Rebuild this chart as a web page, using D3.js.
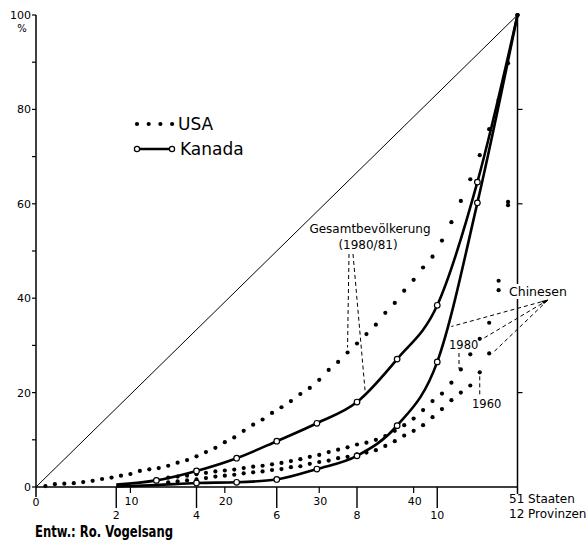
<!DOCTYPE html>
<html><head><meta charset="utf-8">
<script src="https://cdn.jsdelivr.net/npm/d3@7"></script>
<style>
body{margin:0;background:#fff;}
svg{display:block;font-family:"DejaVu Sans",sans-serif;}
</style></head>
<body><svg id="c" width="586" height="543"></svg>
<script>
// ---- data ----
// USA: cumulative share (%) of the 51 states, sorted ascending (index 0..51)
const usaTotal = [0, 0.2, 0.6, 0.7, 0.8, 1.05, 1.3, 1.7, 2.0, 2.4, 2.75, 3.4, 3.75, 4.0, 4.5, 5.15, 5.7, 6.5, 7.4, 8.3, 9.5, 10.5, 11.9, 13.2, 14.3, 15.7, 16.9, 18.2, 19.7, 21.0, 22.7, 24.8, 26.5, 28.5, 30.4, 32.4, 34.4, 36.9, 39.0, 41.6, 43.9, 46.5, 48.8, 52.2, 56.1, 60.6, 65.2, 70.3, 75.8, 82.0, 89.8, 100];
const usaChin1980 = [null,null,null,null,null,null,null,null,null,null,null,null,null,null,
  2.0, 2.2, 2.4, 2.7, 3.0, 3.3, 3.5, 3.7, 4.0, 4.3, 4.5, 4.8, 5.1, 5.5, 5.9, 6.4, 6.8, 7.4, 7.9, 8.4, 9.0, 9.4, 10.0, 10.8, 11.9, 13.1, 14.5, 16.3, 18.2, 19.8, 22.1, 24.9, 28.1, 31.4, 34.8, 43.7, 60.4, 100];
const usaChin1960 = [null,null,null,null,null,null,null,null,null,null,null,null,null,null,
  1.0, 1.2, 1.4, 1.6, 1.9, 2.2, 2.4, 2.6, 2.9, 3.1, 3.3, 3.6, 3.8, 4.2, 4.4, 4.9, 5.3, 5.6, 6.1, 6.4, 6.9, 7.3, 7.8, 8.7, 9.7, 10.9, 11.9, 13.1, 14.8, 16.5, 18.4, 20.0, 21.5, 24.3, 28.3, 41.7, 59.7, 100];
// Canada: cumulative share (%) of the 12 provinces/territories (index 0..12)
const canadaTotal = [0, 0.1, 0.5, 1.4, 3.4, 6.1, 9.7, 13.5, 18.0, 27.1, 38.5, 64.6, 100];
const canadaChin  = [0, 0.0, 0.1, 0.4, 0.85, 1.0, 1.6, 3.8, 6.6, 13.0, 26.5, 60.2, 100];

const yTicks = [0, 20, 40, 60, 80, 100];
const yMinor = [10, 30, 50, 70, 90];
const usaTicks = [10, 20, 30, 40];
const canTicks = [2, 4, 6, 8, 10];

// ---- scales ----
const svg = d3.select("#c");
const xU = d3.scaleLinear().domain([0, 51]).range([36, 517.5]);
const xC = d3.scaleLinear().domain([0, 12]).range([36, 517.5]);
const y = d3.scaleLinear().domain([0, 100]).range([487, 15]);

// ---- axes ----
const ax = svg.append("g").attr("stroke", "#000").attr("fill", "none");
ax.append("line").attr("x1", xU(0)).attr("x2", xU(0)).attr("y1", y(100)).attr("y2", y(0) + 10).attr("stroke-width", 1.5);
ax.append("line").attr("x1", xU(51)).attr("x2", xU(51)).attr("y1", y(100)).attr("y2", y(0) + 7).attr("stroke-width", 1.5);
ax.append("line").attr("x1", xU(0)).attr("x2", xU(51)).attr("y1", y(0)).attr("y2", y(0)).attr("stroke-width", 1.5);
// diagonal
ax.append("line").attr("x1", xU(0)).attr("y1", y(0)).attr("x2", xU(51)).attr("y2", y(100)).attr("stroke-width", 1);

// left ticks
yTicks.concat(yMinor).forEach(v => {
  ax.append("line").attr("x1", xU(0) - 4).attr("x2", xU(0)).attr("y1", y(v)).attr("y2", y(v)).attr("stroke-width", 1.2);
});
// right ticks
[20, 40, 60, 80].forEach(v => {
  ax.append("line").attr("x1", xU(51)).attr("x2", xU(51) + 5).attr("y1", y(v)).attr("y2", y(v)).attr("stroke-width", 1.2);
});
// USA ticks
usaTicks.forEach(v => {
  ax.append("line").attr("x1", xU(v)).attr("x2", xU(v)).attr("y1", y(0)).attr("y2", y(0) + 6).attr("stroke-width", 1.2);
});
// Canada ticks
canTicks.forEach(v => {
  ax.append("line").attr("x1", xC(v)).attr("x2", xC(v)).attr("y1", y(0)).attr("y2", y(0) + 21).attr("stroke-width", 1.4);
});

const lab = svg.append("g").attr("fill", "#000").attr("font-size", 11);
yTicks.forEach(v => {
  lab.append("text").attr("x", xU(0) - 5).attr("y", y(v) + 4).attr("text-anchor", "end").text(v);
});
lab.append("text").attr("x", 22).attr("y", 32).attr("text-anchor", "middle").attr("font-size", 10).text("%");
lab.append("text").attr("x", xU(0)).attr("y", 506).attr("text-anchor", "middle").text(0);
usaTicks.forEach(v => {
  lab.append("text").attr("x", xU(v) + 1).attr("y", 505).attr("text-anchor", "middle").text(v);
});
canTicks.forEach(v => {
  lab.append("text").attr("x", xC(v)).attr("y", 519).attr("text-anchor", "middle").text(v);
});
lab.append("text").attr("x", 509).attr("y", 503).attr("font-size", 12).text("51 Staaten");
lab.append("text").attr("x", 509).attr("y", 518).attr("font-size", 12).text("12 Provinzen");

// ---- Canada lines ----
const lineC = d3.line().x((d, i) => xC(d.i)).y(d => y(d.v)).curve(d3.curveMonotoneX);
function canSeries(arr, from) { return arr.map((v, i) => ({i, v})).filter(d => d.i >= from); }
const cT = canSeries(canadaTotal, 2), cC = canSeries(canadaChin, 2);
svg.append("path").attr("d", lineC(cT)).attr("fill", "none").attr("stroke", "#000").attr("stroke-width", 2.6);
svg.append("path").attr("d", lineC(cC)).attr("fill", "none").attr("stroke", "#000").attr("stroke-width", 2.6);

// ---- USA dots ----
function usaSeries(arr) { return arr.map((v, i) => ({i, v})).filter(d => d.v != null && d.i >= 1); }
const dotG = svg.append("g").attr("fill", "#000");
[usaTotal, usaChin1980, usaChin1960].forEach(arr => {
  dotG.selectAll(null).data(usaSeries(arr)).join("circle")
    .attr("cx", d => xU(d.i)).attr("cy", d => y(d.v)).attr("r", 2.1);
});

// ---- Canada circles ----
const circG = svg.append("g").attr("fill", "#fff").attr("stroke", "#000").attr("stroke-width", 1.2);
circG.selectAll(null).data(cT.filter(d => d.i >= 3 && d.i <= 11)).join("circle")
  .attr("cx", d => xC(d.i)).attr("cy", d => y(d.v)).attr("r", 2.8);
circG.selectAll(null).data(cC.filter(d => d.i >= 4 && d.i <= 11)).join("circle")
  .attr("cx", d => xC(d.i)).attr("cy", d => y(d.v)).attr("r", 2.8);

// ---- legend ----
const lg = svg.append("g");
[0, 1, 2, 3].forEach(k => lg.append("circle").attr("cx", 137 + k * 11.7).attr("cy", 124).attr("r", 2.1).attr("fill", "#000"));
lg.append("text").attr("x", 178).attr("y", 130).attr("font-size", 17).text("USA");
lg.append("line").attr("x1", 137).attr("x2", 172).attr("y1", 149).attr("y2", 149).attr("stroke", "#000").attr("stroke-width", 2.6);
[137, 172].forEach(x => lg.append("circle").attr("cx", x).attr("cy", 149).attr("r", 2.6).attr("fill", "#fff").attr("stroke", "#000").attr("stroke-width", 1.2));
lg.append("text").attr("x", 180).attr("y", 155).attr("font-size", 17).text("Kanada");

// ---- annotations ----
const an = svg.append("g");
const dash = g => g.attr("stroke", "#000").attr("stroke-width", 1).attr("stroke-dasharray", "4,3").attr("fill", "none");
an.append("text").attr("x", 370).attr("y", 233).attr("text-anchor", "middle").attr("font-size", 12).text("Gesamtbevölkerung");
an.append("text").attr("x", 368).attr("y", 249).attr("text-anchor", "middle").attr("font-size", 12).text("(1980/81)");
an.append("line").attr("x1", 349).attr("y1", 254).attr("x2", xU(33)).attr("y2", y(28.5) - 5).call(dash);
an.append("line").attr("x1", 353).attr("y1", 254).attr("x2", xC(8.2)).attr("y2", y(20.5)).call(dash);

// Chinesen label
an.append("rect").attr("x", 508).attr("y", 284).attr("width", 62).attr("height", 15).attr("fill", "#fff");
an.append("text").attr("x", 509).attr("y", 296).attr("font-size", 12.5).text("Chinesen");
const hub = [548, 300];
[[xC(10.35), y(34)], [xU(47) + 3, y(31.4)], [xU(48) + 3, y(28.3)]].forEach(p => {
  an.append("line").attr("x1", hub[0]).attr("y1", hub[1]).attr("x2", p[0]).attr("y2", p[1]).call(dash);
});
an.append("path").attr("d", "M548,300 l-7,1 l3,3 z").attr("fill", "#000");

// 1980 label
an.append("text").attr("x", 449).attr("y", 349).attr("font-size", 11.5).text("1980");
an.append("path").attr("d", `M459,353 V${y(24.9) - 1} H${xU(45) - 2}`).call(dash);
// 1960 label
an.append("text").attr("x", 472).attr("y", 408).attr("font-size", 11.5).text("1960");
an.append("line").attr("x1", xU(47)).attr("x2", xU(47)).attr("y1", y(24.3) + 4).attr("y2", 396).call(dash);

// credit
svg.append("text").attr("x", 35).attr("y", 537).attr("font-family", "'Liberation Sans Narrow','DejaVu Sans Condensed',sans-serif")
  .attr("font-weight", "bold").attr("font-size", 16).attr("textLength", 138).attr("lengthAdjust", "spacingAndGlyphs")
  .text("Entw.: Ro. Vogelsang");
</script></body></html>
